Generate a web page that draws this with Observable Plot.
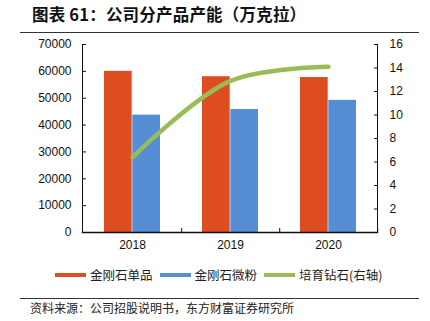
<!DOCTYPE html>
<html>
<head>
<meta charset="utf-8">
<script src="https://cdn.jsdelivr.net/npm/d3@7"></script>
<script src="https://cdn.jsdelivr.net/npm/@observablehq/plot@0.6"></script>
<style>
  html, body { margin: 0; padding: 0; background: #fff; }
  #wrap { position: relative; width: 430px; height: 321px; overflow: hidden; font-family: "Noto Sans CJK SC", "Noto Sans", sans-serif; }
  #title { position: absolute; left: 32px; top: 2px; font-size: 16.5px; font-weight: bold; color: #111; white-space: nowrap; letter-spacing: 0.2px; }
  .hr { position: absolute; left: 20px; width: 399px; height: 0; border-top: 1px solid #333; }
  #chart { position: absolute; left: 0; top: 36px; }
  #legend { position: absolute; left: 55px; top: 265px; display: flex; align-items: center; font-size: 12.5px; color: #222; white-space: nowrap; }
  .sw { display: inline-block; width: 31px; height: 4px; margin-right: 4px; }
  .item { display: flex; align-items: center; margin-right: 7px; }
  #source { position: absolute; left: 30px; top: 299px; font-size: 12px; color: #222; white-space: nowrap; }
</style>
</head>
<body>
<div id="wrap">
  <div id="title">图表 61：公司分产品产能（万克拉）</div>
  <div class="hr" style="top:32px"></div>
  <div id="chart"></div>
  <div id="legend"></div>
  <div class="hr" style="top:298px"></div>
  <div id="source">资料来源：公司招股说明书，东方财富证券研究所</div>
</div>
<script>
// ---- data ----
const years = ["2018", "2019", "2020"];
const singleCrystal = [60000, 58000, 57700];   // 金刚石单品
const micronPowder = [43700, 45800, 49200];    // 金刚石微粉
const labDiamond = [6.4, 12.9, 14.1];          // 培育钻石(右轴)
const leftTicks = [0, 10000, 20000, 30000, 40000, 50000, 60000, 70000];
const rightTicks = [0, 2, 4, 6, 8, 10, 12, 14, 16];
const seriesNames = ["金刚石单品", "金刚石微粉", "培育钻石(右轴)"];
const colors = ["#DD4D1F", "#558ED5", "#9BBB59"];

// right axis maps 0..16 onto left 0..70000
const ratio = 70000 / 16;

const barsA = years.map((y, i) => ({year: y, value: singleCrystal[i]}));
const barsB = years.map((y, i) => ({year: y, value: micronPowder[i]}));
const lineData = years.map((y, i) => ({year: y, value: labDiamond[i] * ratio}));

const font = "'Liberation Sans', Arial, sans-serif";

const chart = Plot.plot({
  width: 430,
  height: 220,
  marginLeft: 82,
  marginRight: 53,
  marginTop: 8,
  marginBottom: 24,
  style: {fontFamily: font, fontSize: "12px", color: "#111", background: "transparent"},
  x: {type: "band", domain: years, padding: 0, axis: null},
  y: {domain: [0, 70000], axis: null},
  marks: [
    Plot.barY(barsA, {x: "year", y: "value", fill: colors[0], insetLeft: 21, insetRight: 49.3}),
    Plot.barY(barsB, {x: "year", y: "value", fill: colors[1], insetLeft: 49.3, insetRight: 21}),
    Plot.lineY(lineData, {x: "year", y: "value", stroke: colors[2], strokeWidth: 4.5, curve: "catmull-rom"}),
    Plot.frame({anchor: "left", stroke: "#111"}),
    Plot.frame({anchor: "right", stroke: "#111"}),
    Plot.frame({anchor: "bottom", stroke: "#111", strokeWidth: 1.5}),
    Plot.axisY(leftTicks, {anchor: "left", tickSize: -4, tickPadding: 15, tickFormat: d3.format("d"), stroke: "#111", fill: "#111", label: null}),
    Plot.axisY(rightTicks.map(v => v * ratio), {anchor: "right", tickSize: -4, tickPadding: 16, tickFormat: d => String(Math.round(d / ratio)), stroke: "#111", fill: "#111", label: null}),
    Plot.axisX(years, {anchor: "bottom", tickSize: 0, tickPadding: 8, fill: "#111", label: null}),
    Plot.axisX(years, {anchor: "bottom", tickSize: -4, text: null, dx: 49.2, stroke: "#111", label: null})
  ]
});
document.getElementById("chart").appendChild(chart);

const legend = document.getElementById("legend");
seriesNames.forEach((name, i) => {
  const item = document.createElement("div");
  item.className = "item";
  const sw = document.createElement("span");
  sw.className = "sw";
  sw.style.background = colors[i];
  const t = document.createElement("span");
  t.textContent = name;
  item.appendChild(sw);
  item.appendChild(t);
  legend.appendChild(item);
});
</script>
</body>
</html>
